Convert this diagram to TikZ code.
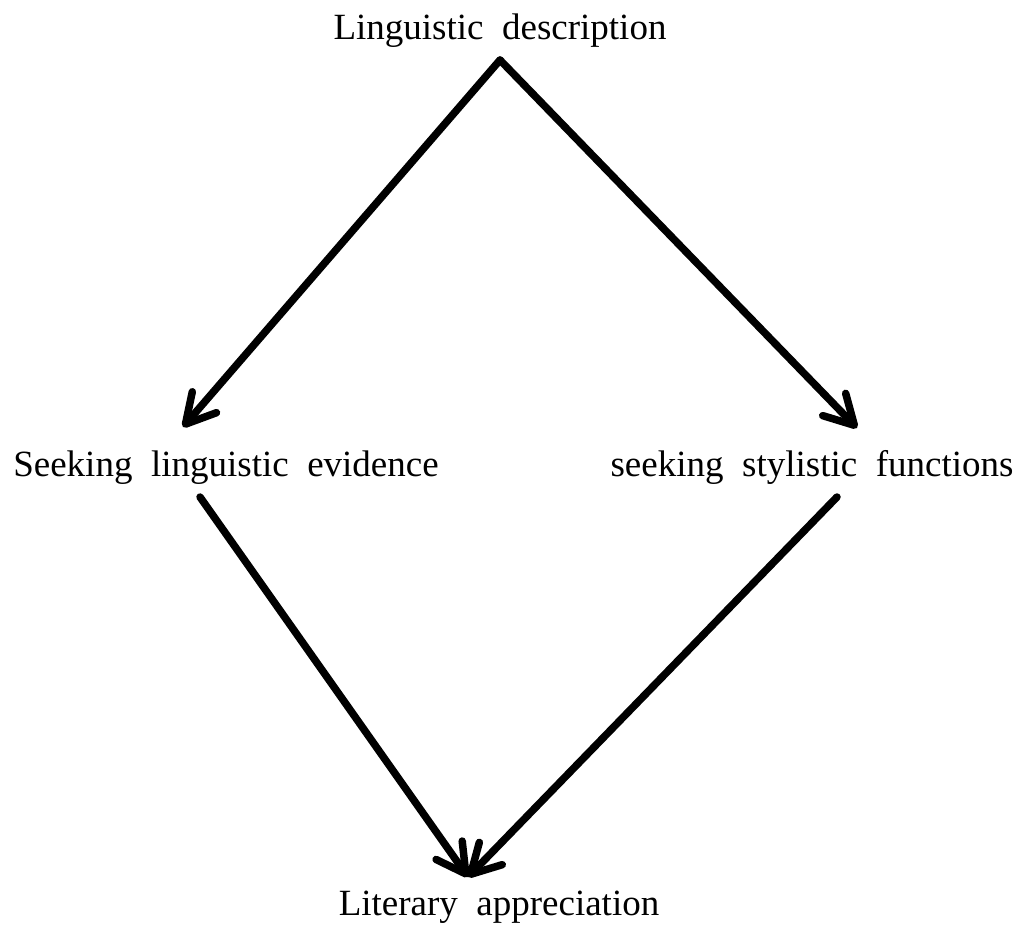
\documentclass[tikz,border=0pt]{standalone}
\usepackage{fontspec}
\setmainfont{Liberation Serif}[WordSpace=2]
\usetikzlibrary{arrows.meta}
\tikzset{
  label/.style={inner sep=0pt, anchor=base, font=\fontsize{37}{44}\selectfont},
  flow/.style={line width=7.5pt, line cap=round, line join=round,
    -{Straight Barb[length=29pt, width=32pt, round]}}
}
\begin{document}
\begin{tikzpicture}[x=1pt,y=-1pt]
        \useasboundingbox (0,0) rectangle (1021,930);
        \node[label] (desc) at (500,39) {Linguistic description};
        \node[label] (evid) at (226,476) {Seeking linguistic evidence};
        \node[label] (func) at (812,476) {seeking stylistic functions};
        \node[label] (appr) at (499,915) {Literary appreciation};

        \coordinate (apex) at (500,60);
        \coordinate (evidin) at (183,427);
        \coordinate (funcin) at (857,428);
        \coordinate (evidout) at (200,497);
        \coordinate (funcout) at (837,497);
        \coordinate (apprin) at (468,877);

        \draw[flow] (apex) -- (evidin);
        \draw[flow] (apex) -- (funcin);
        \draw[flow] (evidout) -- (apprin);
        \draw[flow] (funcout) -- (apprin);
    \end{tikzpicture}
\end{document}
